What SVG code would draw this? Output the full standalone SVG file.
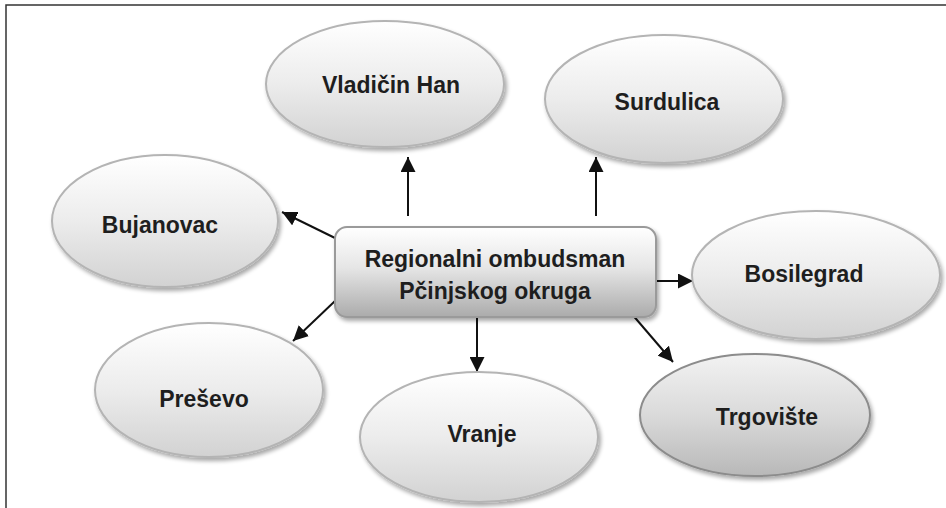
<svg xmlns="http://www.w3.org/2000/svg" width="946" height="508" viewBox="0 0 946 508">
<style>
.lbl{font-family:"Liberation Sans",Arial,sans-serif;font-weight:bold;font-size:23px;fill:#1e1e1e;text-anchor:middle}
.ell{fill:url(#gEll);stroke:#b4b4b4;stroke-width:2;filter:url(#sh)}
.ell2{fill:url(#gEll2);stroke:#8c8c8c;stroke-width:2;filter:url(#sh)}
.con{stroke:#111;stroke-width:2;fill:none;marker-end:url(#ah)}
</style>
<defs>
<linearGradient id="gEll" x1="0" y1="0" x2="0" y2="1">
<stop offset="0" stop-color="#ffffff"/>
<stop offset="0.5" stop-color="#ececec"/>
<stop offset="1" stop-color="#d2d2d2"/>
</linearGradient>
<linearGradient id="gEll2" x1="0" y1="0" x2="0" y2="1">
<stop offset="0" stop-color="#f2f2f2"/>
<stop offset="0.5" stop-color="#dadada"/>
<stop offset="1" stop-color="#b8b8b8"/>
</linearGradient>
<linearGradient id="gBox" x1="0" y1="0" x2="0" y2="1">
<stop offset="0" stop-color="#ffffff"/>
<stop offset="0.45" stop-color="#e6e6e6"/>
<stop offset="1" stop-color="#ababab"/>
</linearGradient>
<filter id="sh" x="-10%" y="-10%" width="125%" height="130%">
<feGaussianBlur in="SourceAlpha" stdDeviation="2"/>
<feOffset dx="2" dy="3" result="b"/>
<feComponentTransfer><feFuncA type="linear" slope="0.35"/></feComponentTransfer>
<feMerge><feMergeNode/><feMergeNode in="SourceGraphic"/></feMerge>
</filter>
<marker id="ah" markerUnits="userSpaceOnUse" markerWidth="15" markerHeight="15" viewBox="0 0 10 10" refX="10" refY="5" orient="auto">
<path d="M0,0 L10,5 L0,10 z" fill="#111"/>
</marker>
</defs>
<path d="M6,508 L6,5 L946,5" fill="none" stroke="#333" stroke-width="1.5"/>
<g id="connectors">
<line class="con" x1="335" y1="238" x2="282" y2="212"/>
<line class="con" x1="408" y1="216" x2="408" y2="157"/>
<line class="con" x1="596" y1="216" x2="596" y2="157"/>
<line class="con" x1="641" y1="281" x2="693" y2="281"/>
<line class="con" x1="625" y1="306" x2="673" y2="362"/>
<line class="con" x1="477" y1="315" x2="477" y2="372"/>
<line class="con" x1="335" y1="301" x2="293" y2="341"/>
</g>
<g id="vladicin-han">
<ellipse class="ell" cx="385" cy="84" rx="119" ry="63"/>
<text class="lbl" x="391" y="93">Vladičin Han</text>
</g>
<g id="surdulica">
<ellipse class="ell" cx="664" cy="99" rx="119" ry="64"/>
<text class="lbl" x="667" y="110">Surdulica</text>
</g>
<g id="bujanovac">
<ellipse class="ell" cx="165" cy="221" rx="113" ry="66"/>
<text class="lbl" x="160" y="233">Bujanovac</text>
</g>
<g id="bosilegrad">
<ellipse class="ell" cx="816" cy="275" rx="124" ry="64"/>
<text class="lbl" x="804" y="282">Bosilegrad</text>
</g>
<g id="presevo">
<ellipse class="ell" cx="209" cy="390" rx="114" ry="67"/>
<text class="lbl" x="204" y="407">Preševo</text>
</g>
<g id="vranje">
<ellipse class="ell" cx="479" cy="437" rx="119" ry="65"/>
<text class="lbl" x="482" y="442">Vranje</text>
</g>
<g id="trgoviste">
<ellipse class="ell2" cx="755" cy="415" rx="115" ry="61"/>
<text class="lbl" x="767" y="425">Trgovište</text>
</g>
<g id="center">
<rect x="335" y="227" width="321" height="90" rx="12" ry="12" fill="url(#gBox)" stroke="#9a9a9a" stroke-width="2" filter="url(#sh)"/>
<text class="lbl" x="495" y="267">Regionalni ombudsman</text>
<text class="lbl" x="495" y="299">Pčinjskog okruga</text>
</g>
</svg>
